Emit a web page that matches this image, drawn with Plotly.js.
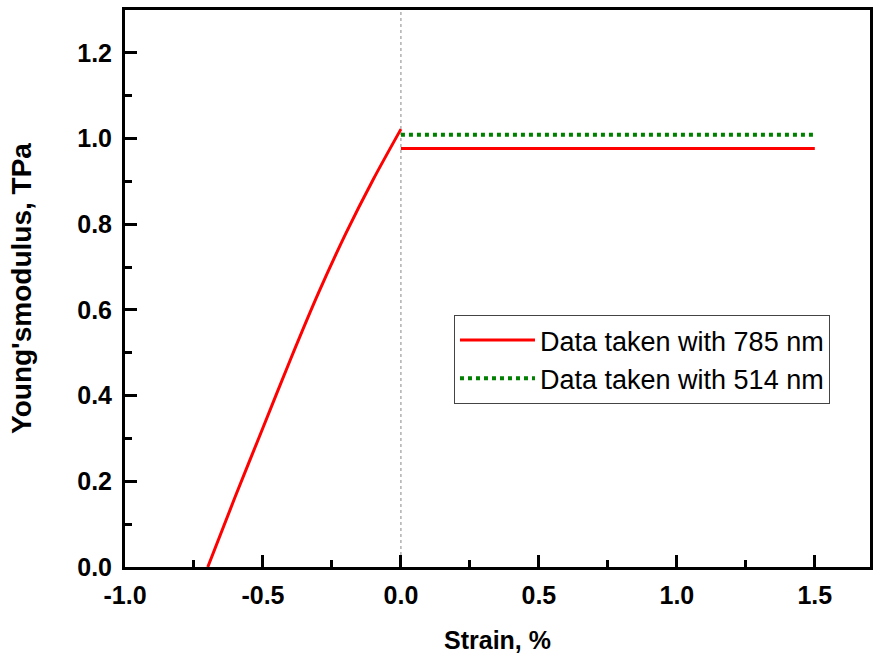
<!DOCTYPE html>
<html>
<head>
<meta charset="utf-8">
<script src="https://cdn.plot.ly/plotly-3.0.1.min.js"></script>
<style>html,body{margin:0;padding:0;background:#fff;}#chart{width:874px;height:654px;}</style>
</head>
<body>
<div id="chart"></div>
<script>
// Red series (785 nm): rising curve, then flat plateau
const strainCurve = [-0.7, -0.6, -0.5, -0.4, -0.3, -0.2, -0.1, 0.0];
const modulusCurve = [0.0, 0.165, 0.325, 0.485, 0.638, 0.778, 0.905, 1.022];
const strainFlat785 = [0.0, 1.5];
const modulusFlat785 = [0.977, 0.977];
// Green series (514 nm)
const strain514 = [0.0, 1.5];
const modulus514 = [1.009, 1.009];
// Reference line at zero strain
const refStrain = 0;

// Axis ticks and labels
const xTickVals = [-1.0, -0.5, 0.0, 0.5, 1.0, 1.5];
const xTickText = ["-1.0", "-0.5", "0.0", "0.5", "1.0", "1.5"];
const yTickVals = [0.0, 0.2, 0.4, 0.6, 0.8, 1.0, 1.2];
const yTickText = ["0.0", "0.2", "0.4", "0.6", "0.8", "1.0", "1.2"];

const seriesNames = ["Data taken with 785 nm", "Data taken with 514 nm"];
const xTitle = "Strain, %";
const yTitle = "Young'smodulus, TPa";

const redX = strainCurve.concat([null], strainFlat785);
const redY = modulusCurve.concat([null], modulusFlat785);

const traces = [
  {x: redX, y: redY, mode: 'lines', name: seriesNames[0], connectgaps: false,
   line: {color: '#ff0000', width: 3, shape: 'spline', smoothing: 0.8}},
  {x: strain514, y: modulus514, mode: 'lines', name: seriesNames[1],
   line: {color: '#008000', width: 4, dash: '4px,4px'}}
];

const fam = 'Liberation Sans, Arial, sans-serif';
const tickFont = {family: fam, size: 25, color: '#000', weight: 'bold'};

const layout = {
  width: 874, height: 654,
  margin: {l: 125, r: 4, t: 10, b: 87},
  paper_bgcolor: '#fff', plot_bgcolor: '#fff',
  showlegend: true,
  legend: {
    x: 0.4416, y: 0.4524, xanchor: 'left', yanchor: 'top',
    bgcolor: '#fff', bordercolor: '#444', borderwidth: 1,
    font: {family: fam, size: 27, color: '#000'},
    itemwidth: 75,
    tracegroupgap: 0
  },
  xaxis: {
    range: [-1.0, 1.7], tickmode: 'array', tickvals: xTickVals, ticktext: xTickText,
    showgrid: false, zeroline: false,
    showline: true, linecolor: '#000', linewidth: 3, mirror: true,
    ticks: 'inside', ticklen: 12, tickwidth: 3, tickcolor: '#000',
    ticklabelstandoff: 4,
    tickfont: tickFont,
    minor: {dtick: 0.25, tick0: 0, ticks: 'inside', ticklen: 7, tickwidth: 3, tickcolor: '#000', showgrid: false},
    title: {text: xTitle, font: {family: fam, size: 25, color: '#000', weight: 'bold'}, standoff: 27}
  },
  yaxis: {
    range: [0, 1.3], tickmode: 'array', tickvals: yTickVals, ticktext: yTickText,
    showgrid: false, zeroline: false,
    showline: true, linecolor: '#000', linewidth: 3, mirror: true,
    ticks: 'inside', ticklen: 12, tickwidth: 3, tickcolor: '#000',
    ticklabelstandoff: 5,
    tickfont: tickFont,
    minor: {dtick: 0.1, tick0: 0, ticks: 'inside', ticklen: 7, tickwidth: 3, tickcolor: '#000', showgrid: false},
    title: {text: yTitle, font: {family: fam, size: 28, color: '#000', weight: 'bold'}, standoff: 38}
  },
  shapes: [
    {type: 'line', xref: 'x', yref: 'paper', x0: refStrain, x1: refStrain, y0: 0, y1: 1,
     line: {color: '#888', width: 1, dash: 'dot'}, layer: 'below'}
  ]
};

Plotly.newPlot('chart', traces, layout, {displayModeBar: false, staticPlot: true});
</script>
</body>
</html>
